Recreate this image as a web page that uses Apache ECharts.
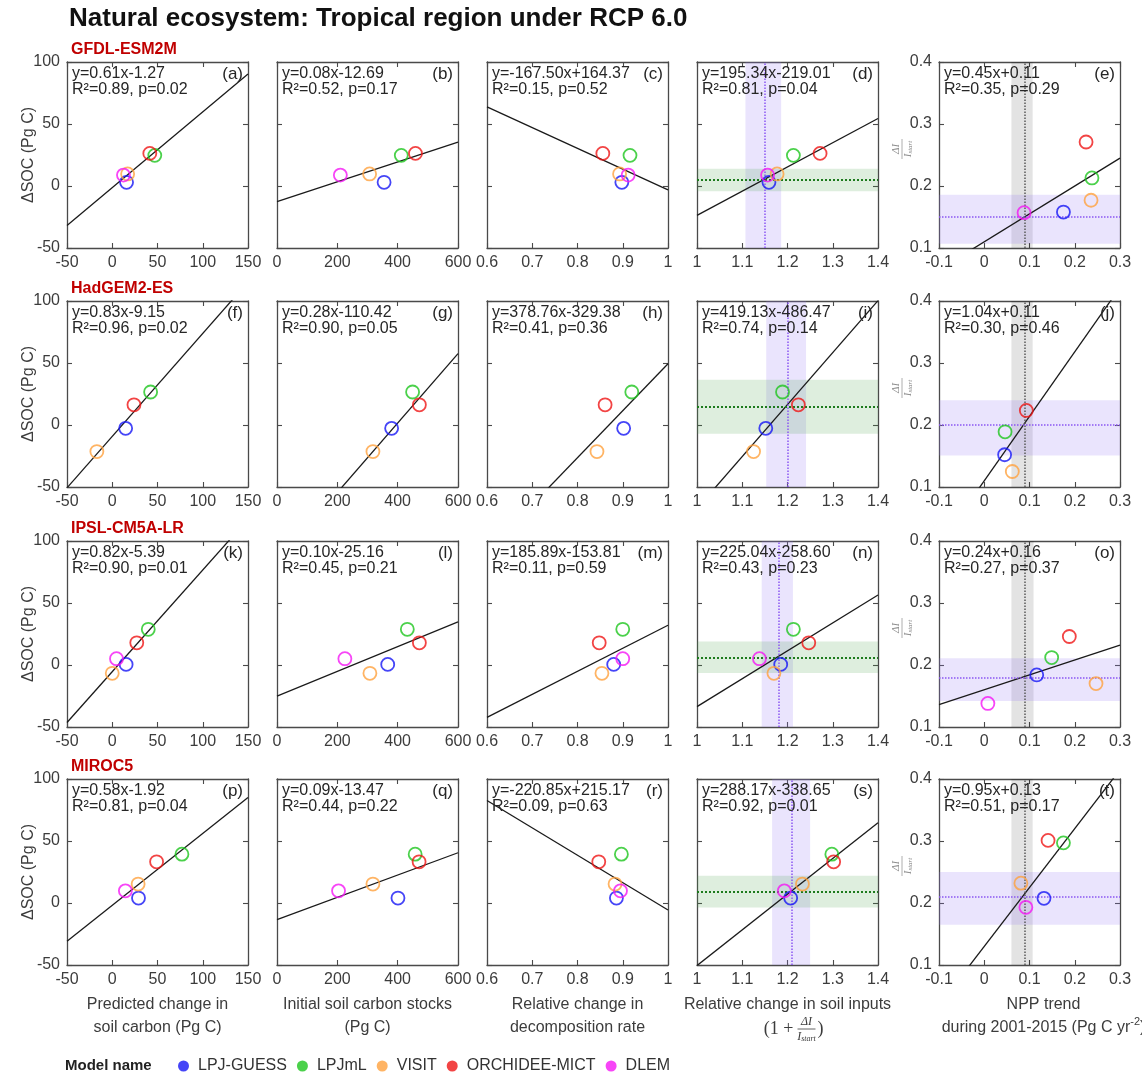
<!DOCTYPE html>
<html><head><meta charset="utf-8">
<script src="https://cdn.jsdelivr.net/npm/echarts/dist/echarts.min.js"></script>
<style>html,body{margin:0;padding:0;background:#fff}#c{width:1142px;height:1082px}</style>
</head><body><div id="c"></div>
<script>
// ---------------- data ----------------
const models = ['LPJ-GUESS', 'LPJmL', 'VISIT', 'ORCHIDEE-MICT', 'DLEM'];
const modelColors = ['#1717f5', '#1ec51e', '#ffa13d', '#ef1515', '#f516f5'];
const rowModels = ['GFDL-ESM2M', 'HadGEM2-ES', 'IPSL-CM5A-LR', 'MIROC5'];
const panelTags = ['a','b','c','d','e','f','g','h','i','j','k','l','m','n','o','p','q','r','s','t'];

// per row (climate model), per land model (order of `models`); null = missing
const deltaSOC        = [[3, 24.7, 9.7, 26.3, 8.8], [-2.7, 26.6, -21.4, 16.3, null], [0.5, 28.8, -6.7, 17.9, 5.1], [4, 39.4, 15.3, 33.2, 9.8]];
const predictedChange = [[15.8, 47, 17, 41.5, 12.4], [14.8, 42.4, -17, 24, null], [15.3, 39.8, 0, 27.1, 4.7], [29, 77, 28.6, 49, 14.5]];
const initialSOC      = [[355, 412, 307, 459, 210], [380, 449.5, 318, 472, null], [367, 432, 308, 472, 225], [401, 458, 318, 471, 204]];
const decompChange    = [[0.898, 0.916, 0.893, 0.856, 0.912], [0.902, 0.92, 0.843, 0.861, null], [0.88, 0.9, 0.854, 0.848, 0.9], [0.886, 0.897, 0.883, 0.847, 0.895]];
const soilInputChange = [[1.159, 1.213, 1.177, 1.272, 1.156], [1.152, 1.189, 1.125, 1.224, null], [1.185, 1.213, 1.17, 1.247, 1.138], [1.207, 1.298, 1.233, 1.302, 1.193]];
const inputFraction   = [[0.158, 0.213, 0.177, 0.271, 0.157], [0.152, 0.189, 0.125, 0.2235, null], [0.184, 0.212, 0.170, 0.246, 0.138], [0.2075, 0.297, 0.232, 0.301, 0.193]];
const nppTrend        = [[0.175, 0.238, 0.236, 0.225, 0.088], [0.045, 0.046, 0.062, 0.093, null], [0.116, 0.149, 0.247, 0.188, 0.008], [0.132, 0.175, 0.081, 0.141, 0.092]];

// regression fits per row, per column
const slopes     = [[0.61, 0.08, -167.50, 195.34, 0.45], [0.83, 0.28, 378.76, 419.13, 1.04], [0.82, 0.10, 185.89, 225.04, 0.24], [0.58, 0.09, -220.85, 288.17, 0.95]];
const intercepts = [[-1.27, -12.69, 164.37, -219.01, 0.11], [-9.15, -110.42, -329.38, -486.47, 0.11], [-5.39, -25.16, -153.81, -258.60, 0.16], [-1.92, -13.47, 215.17, -338.65, 0.13]];
const rSquared   = [[0.89, 0.52, 0.15, 0.81, 0.35], [0.96, 0.90, 0.41, 0.74, 0.30], [0.90, 0.45, 0.11, 0.43, 0.27], [0.81, 0.44, 0.09, 0.92, 0.51]];
const pValues    = [[0.02, 0.17, 0.52, 0.04, 0.29], [0.02, 0.05, 0.36, 0.14, 0.46], [0.01, 0.21, 0.59, 0.23, 0.37], [0.04, 0.22, 0.63, 0.01, 0.17]];

// constraint bands
const inputBandX = [[1.107, 1.186], [1.153, 1.241], [1.143, 1.212], [1.166, 1.250]];
const inputMeanX = [1.147, 1.197, 1.178, 1.208];
const socBandY   = [[-4.3, 13.9], [-7.0, 36.4], [-6.5, 18.9], [-3.7, 21.9]];
const socMeanY   = [5.1, 15.0, 6.2, 9.1];
const nppBandX   = [[0.060, 0.107], [0.060, 0.107], [0.060, 0.109], [0.060, 0.107]];
const nppMeanX   = [0.085, 0.087, 0.086, 0.085];
const fracBandY  = [[0.107, 0.186], [0.151, 0.240], [0.142, 0.211], [0.165, 0.250]];
const fracMeanY  = [0.147, 0.196, 0.176, 0.2075];

// axis ticks per column
const xMin  = [-50, 0, 0.6, 1, -0.1];
const xMax  = [150, 600, 1, 1.4, 0.3];
const xStep = [50, 200, 0.1, 0.1, 0.1];
const yMin  = [-50, -50, -50, -50, 0.1];
const yMax  = [100, 100, 100, 100, 0.4];
const yStep = [50, 50, 50, 50, 0.1];

const xNames = [
  'Predicted change in\nsoil carbon (Pg C)',
  'Initial soil carbon stocks\n(Pg C)',
  'Relative change in\ndecomposition rate',
  'Relative change in soil inputs',
  '{a|NPP trend}\n{a|during 2001-2015 (Pg C yr}{s|-2}{a|)}'
];
const ySOCName = 'ΔSOC (Pg C)';

// ---------------- layout ----------------
const FONT = '"Liberation Sans", Arial, Helvetica, sans-serif';
const SERIF = '"Liberation Serif", "DejaVu Serif", serif';
const AX = '#4a4a4a';
const TXT = '#3c3c3c';
const colLeft = [67, 277, 487, 697, 939];
const rowTop = [62, 301, 541, 779];
const PW = 181, PH = 186;

const grids = [], xAxes = [], yAxes = [], series = [], gfx = [];
const fmt = v => String(Math.round(v * 1000) / 1000);

function baseAxis(gi, pos, min, max, step, showLabel) {
  return {
    type: 'value', gridIndex: gi, position: pos, min: min, max: max, interval: step,
    axisLine: { show: true, onZero: false, lineStyle: { color: AX, width: 1.3 } },
    axisTick: { show: true, inside: true, length: 5, lineStyle: { color: AX, width: 1.1 } },
    axisLabel: { show: showLabel, margin: 7, fontSize: 16, color: TXT, fontFamily: FONT, formatter: fmt },
    splitLine: { show: false },
    nameMoveOverlap: false
  };
}

const xDataByCol = [predictedChange, initialSOC, decompChange, soilInputChange, nppTrend];
const fixed2 = v => v.toFixed(2);

for (let r = 0; r < 4; r++) {
  for (let c = 0; c < 5; c++) {
    const gi = r * 5 + c;
    grids.push({ left: colLeft[c], top: rowTop[r], width: PW, height: PH, containLabel: false, outerBoundsMode: 'none' });

    const xb = baseAxis(gi, 'bottom', xMin[c], xMax[c], xStep[c], true);
    if (r === 3) {
      Object.assign(xb, {
        name: xNames[c], nameLocation: 'middle', nameGap: 28,
        nameTextStyle: {
          fontSize: 16, lineHeight: 23, color: TXT, fontFamily: FONT,
          padding: c === 4 ? [0, 0, 0, 28] : 0,
          rich: {
            a: { fontSize: 16, lineHeight: 23, color: TXT, fontFamily: FONT },
            s: { fontSize: 11, lineHeight: 13, verticalAlign: 'top', color: TXT, fontFamily: FONT }
          }
        }
      });
    }
    xAxes.push(xb);
    xAxes.push(baseAxis(gi, 'top', xMin[c], xMax[c], xStep[c], false));

    const yl = baseAxis(gi, 'left', yMin[c], yMax[c], yStep[c], c === 0 || c === 4);
    if (c === 0) {
      Object.assign(yl, {
        name: ySOCName, nameLocation: 'middle', nameGap: 30, nameRotate: 90,
        nameTextStyle: { fontSize: 16, color: TXT, fontFamily: FONT }
      });
    }
    yAxes.push(yl);
    yAxes.push(baseAxis(gi, 'right', yMin[c], yMax[c], yStep[c], false));

    const xi = 2 * gi, yi = 2 * gi;

    // bands
    if (c === 3 || c === 4) {
      const vb = c === 3 ? inputBandX[r] : nppBandX[r];
      const vm = c === 3 ? inputMeanX[r] : nppMeanX[r];
      const hb = c === 3 ? socBandY[r] : fracBandY[r];
      const hm = c === 3 ? socMeanY[r] : fracMeanY[r];
      const vCol = c === 3 ? 'rgba(150,120,245,0.20)' : 'rgba(0,0,0,0.11)';
      const hCol = c === 3 ? 'rgba(70,160,70,0.18)' : 'rgba(150,120,245,0.20)';
      const vLine = c === 3 ? { color: '#8a55f2', width: 1.5, type: 'dotted' } : { color: '#5a5a5a', width: 1.5, type: 'dotted' };
      const hLine = c === 3 ? { color: '#1d7a1d', width: 2, type: 'dotted' } : { color: '#8a55f2', width: 1.5, type: 'dotted' };
      series.push({
        type: 'line', xAxisIndex: xi, yAxisIndex: yi, data: [], z: 1, silent: true,
        markArea: {
          silent: true,
          data: [
            [{ xAxis: vb[0], itemStyle: { color: vCol } }, { xAxis: vb[1] }],
            [{ yAxis: hb[0], itemStyle: { color: hCol } }, { yAxis: hb[1] }]
          ]
        }
      });
      series.push({
        type: 'line', xAxisIndex: xi, yAxisIndex: yi, data: [], z: 2, silent: true,
        markLine: {
          silent: true, symbol: ['none', 'none'], label: { show: false }, animation: false,
          data: [
            { xAxis: vm, lineStyle: vLine },
            { yAxis: hm, lineStyle: hLine }
          ]
        }
      });
    }

    // regression line
    const a = slopes[r][c], b = intercepts[r][c];
    series.push({
      type: 'line', xAxisIndex: xi, yAxisIndex: yi, z: 3, silent: true, clip: true,
      symbol: 'none', showSymbol: false,
      lineStyle: { color: '#1a1a1a', width: 1.3 },
      data: [[xMin[c], a * xMin[c] + b], [xMax[c], a * xMax[c] + b]]
    });

    // points
    const xs = xDataByCol[c][r];
    const ys = c < 4 ? deltaSOC[r] : inputFraction[r];
    for (let m = 0; m < models.length; m++) {
      if (xs[m] === null || ys[m] === null) continue;
      series.push({
        type: 'scatter', name: models[m], xAxisIndex: xi, yAxisIndex: yi, z: 5, silent: true,
        symbol: 'circle', symbolSize: 13,
        itemStyle: { color: 'rgba(255,255,255,0)', borderColor: modelColors[m], borderWidth: 1.8 },
        data: [[xs[m], ys[m]]]
      });
    }

    // equation text
    const eq = 'y=' + fixed2(a) + 'x' + (b >= 0 ? '+' : '') + fixed2(b) +
               '\nR²=' + fixed2(rSquared[r][c]) + ', p=' + fixed2(pValues[r][c]);
    gfx.push({
      type: 'text', x: colLeft[c] + 5, y: rowTop[r] + 4, z: 100,
      style: { text: eq, font: '16px ' + FONT, fill: '#262626', lineHeight: 16, textVerticalAlign: 'top' }
    });
    gfx.push({
      type: 'text', x: colLeft[c] + PW - 5, y: rowTop[r] + 12, z: 100,
      style: { text: '(' + panelTags[gi] + ')', font: '17px ' + FONT, fill: '#262626', textAlign: 'right', textVerticalAlign: 'middle' }
    });
  }

  // row label
  gfx.push({
    type: 'text', x: 71, y: rowTop[r] - 12,
    style: { text: rowModels[r], font: 'bold 16px ' + FONT, fill: '#c00000', textVerticalAlign: 'middle' }
  });

  // fraction y-axis name of column e
  gfx.push({
    type: 'group', x: colLeft[4] - 37, y: rowTop[r] + PH / 2 - 6, rotation: Math.PI / 2,
    children: [
      { type: 'text', x: 0, y: -5.5, style: { text: 'ΔI', fontSize: 11, fontStyle: 'italic', fontFamily: SERIF, fill: '#8c8c8c', textAlign: 'center', textVerticalAlign: 'middle' } },
      { type: 'line', shape: { x1: -10, y1: 0, x2: 10, y2: 0 }, style: { stroke: '#999', lineWidth: 0.8 } },
      { type: 'text', x: 0, y: 6, style: { text: '{i|I}{s|start}', rich: { i: { fontSize: 11, fontStyle: 'italic', fontFamily: SERIF, fill: '#8c8c8c' }, s: { fontSize: 7, fontStyle: 'italic', fontFamily: SERIF, fill: '#8c8c8c', verticalAlign: 'bottom' } }, textAlign: 'center', textVerticalAlign: 'middle' } }
    ]
  });
}

// formula under column d axis name
gfx.push({
  type: 'group', x: colLeft[3] + PW / 2 + 6, y: 1029,
  children: [
    { type: 'text', x: 0, y: 0, style: { text: '(1 +', fontSize: 18, fontFamily: SERIF, fill: TXT, textAlign: 'right', textVerticalAlign: 'middle' } },
    { type: 'text', x: 13, y: -7, style: { text: 'ΔI', fontSize: 12, fontStyle: 'italic', fontFamily: SERIF, fill: TXT, textAlign: 'center', textVerticalAlign: 'middle' } },
    { type: 'line', shape: { x1: 4, y1: 0, x2: 22, y2: 0 }, style: { stroke: TXT, lineWidth: 0.8 } },
    { type: 'text', x: 13, y: 8, style: { text: '{i|I}{s|start}', rich: { i: { fontSize: 12, fontStyle: 'italic', fontFamily: SERIF, fill: TXT }, s: { fontSize: 8, fontStyle: 'italic', fontFamily: SERIF, fill: TXT, verticalAlign: 'bottom' } }, textAlign: 'center', textVerticalAlign: 'middle' } },
    { type: 'text', x: 24, y: 0, style: { text: ')', fontSize: 18, fontFamily: SERIF, fill: TXT, textAlign: 'left', textVerticalAlign: 'middle' } }
  ]
});

// legend caption
gfx.push({
  type: 'text', x: 65, y: 1066,
  style: { text: 'Model name', font: 'bold 15px ' + FONT, fill: '#222', textVerticalAlign: 'middle' }
});

const option = {
  backgroundColor: '#fff',
  animation: false,
  title: {
    text: 'Natural ecosystem: Tropical region under RCP 6.0',
    left: 69, top: 6, padding: 0,
    textStyle: { fontSize: 26, fontWeight: 'bold', color: '#111', fontFamily: FONT }
  },
  legend: {
    left: 173, top: 1053, orient: 'horizontal',
    itemWidth: 11, itemHeight: 11, itemGap: 10, icon: 'circle', selectedMode: false,
    textStyle: { fontSize: 16, color: '#333', fontFamily: FONT, padding: [0, 0, 0, 4] },
    data: models.map((n, i) => ({ name: n, icon: 'circle', itemStyle: { color: modelColors[i], borderColor: modelColors[i], borderWidth: 0 } }))
  },
  grid: grids,
  xAxis: xAxes,
  yAxis: yAxes,
  series: series,
  graphic: { elements: gfx }
};

const chart = echarts.init(document.getElementById('c'), null, { renderer: 'canvas' });
chart.setOption(option);
</script></body></html>
